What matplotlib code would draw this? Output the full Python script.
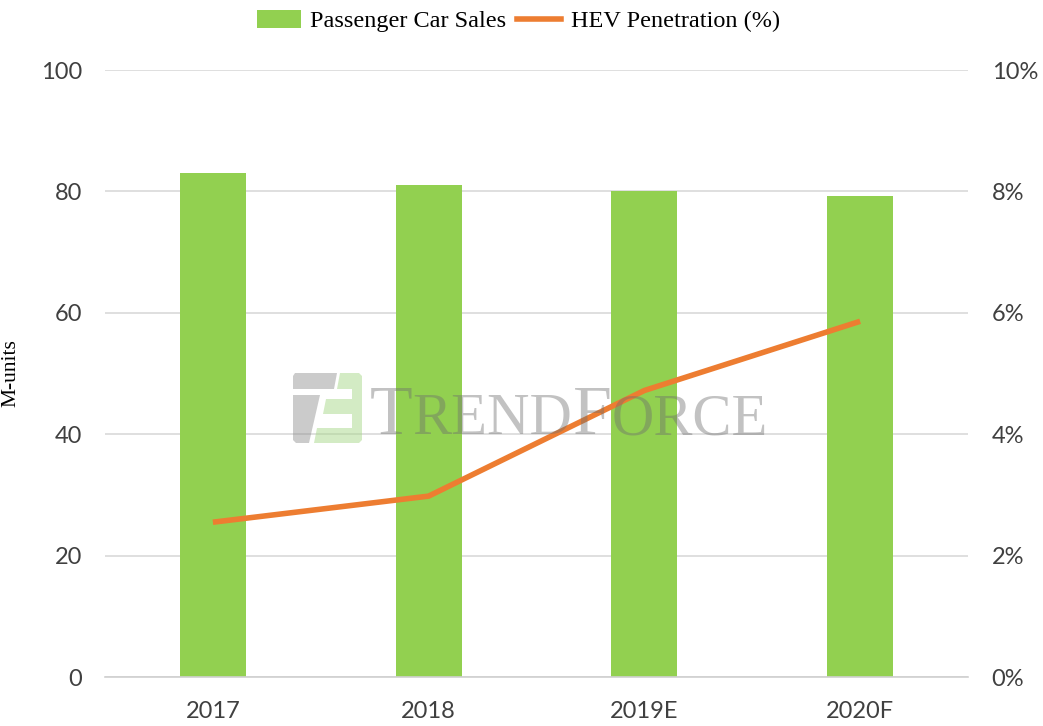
import matplotlib
matplotlib.use("Agg")
import matplotlib.pyplot as plt
from matplotlib.patches import Patch, Polygon
from matplotlib.lines import Line2D

categories = ["2017", "2018", "2019E", "2020F"]
sales = [83.0, 81.0, 80.0, 79.3]
hev_pct = [2.55, 2.98, 4.72, 5.86]
left_ticks = [0, 20, 40, 60, 80, 100]
right_ticks = [0, 2, 4, 6, 8, 10]

GREEN = "#92D050"
ORANGE = "#ED7D31"
GRID = "#D9D9D9"
TICKC = "#404040"

W, H = 1043, 726
fig = plt.figure(figsize=(W / 100, H / 100), dpi=100)
ax = fig.add_axes([105 / W, 1 - 677 / H, (968 - 105) / W, (677 - 70) / H])
x = list(range(len(categories)))
ax.bar(x, sales, width=0.305, color=GREEN, zorder=2)
ax.set_xlim(-0.5, 3.5)
ax.set_ylim(0, 100)
ax.set_yticks(left_ticks)
ax.set_xticks(x)
ax.set_xticklabels(categories)
ax.yaxis.grid(True, color=GRID, linewidth=1.2, zorder=0)
ax.set_axisbelow(True)
for s in ["top", "left", "right"]:
    ax.spines[s].set_visible(False)
ax.spines["bottom"].set_color("#D0D0D0")
ax.spines["bottom"].set_linewidth(1.2)
ax.tick_params(axis="both", length=0, labelsize=17, labelcolor=TICKC)
ax.tick_params(axis="x", pad=17)
ax.tick_params(axis="y", pad=16.5)
for lab in ax.get_xticklabels() + ax.get_yticklabels():
    lab.set_family("Lato")
ax.set_ylabel("M-units", family="Liberation Serif", fontsize=15.5, color="#000000")
ax.yaxis.set_label_coords(-0.098, 0.5)

ax2 = ax.twinx()
ax2.plot(x, hev_pct, color=ORANGE, linewidth=4, solid_capstyle="butt", zorder=3)
ax2.set_ylim(0, 10)
ax2.set_yticks(right_ticks)
ax2.set_yticklabels([f"{t}%" for t in right_ticks])
for s in ["top", "left", "right", "bottom"]:
    ax2.spines[s].set_visible(False)
ax2.tick_params(axis="y", length=0, labelsize=17, labelcolor=TICKC, pad=17)
for lab in ax2.get_yticklabels():
    lab.set_family("Lato")


# watermark logo (figure pixel coordinates -> figure fraction)
def fp(pts):
    return [(px / W, 1 - py / H) for px, py in pts]


grey_parts = [
    [(295, 373), (337, 373), (334, 389), (293, 389), (293, 376)],
    [(293, 395), (320, 395), (309, 443), (296, 443), (293, 440)],
]
green_parts = [
    [(340, 373), (359, 373), (362, 376), (362, 389), (337, 389)],
    [(326, 399), (352, 399), (352, 414), (323, 414)],
    [(352, 389), (362, 389), (362, 428), (352, 428)],
    [(317, 428), (362, 428), (362, 440), (359, 443), (314, 443)],
]
for p in grey_parts:
    fig.patches.append(Polygon(fp(p), closed=True, transform=fig.transFigure,
                               facecolor="#8C8C8C", edgecolor="none", alpha=0.45, zorder=5))
for p in green_parts:
    fig.patches.append(Polygon(fp(p), closed=True, transform=fig.transFigure,
                               facecolor="#A9D98A", edgecolor="none", alpha=0.5, zorder=5))

# watermark text: "TRENDFORCE" in small caps
pieces = [("T", 1.0), ("REND", 0.84), ("F", 1.0), ("ORCE", 0.84)]
x0, x1, base = 370, 768, 434
renderer = fig.canvas.get_renderer()
base_size = 50
total = 0
for txt, sc in pieces:
    t = fig.text(0, 0, txt, family="Liberation Serif", fontsize=base_size * sc)
    total += t.get_window_extent(renderer).width
    t.remove()
k = (x1 - x0) / total
cur = x0
for txt, sc in pieces:
    t = fig.text(cur / W, 1 - base / H, txt, family="Liberation Serif", fontsize=base_size * sc * k,
                 color="#6E6E6E", alpha=0.42, ha="left", va="baseline", zorder=6)
    cur += t.get_window_extent(renderer).width

handles = [Patch(facecolor=GREEN, edgecolor="none"), Line2D([0], [0], color=ORANGE, linewidth=4)]
fig.legend(handles, ["Passenger Car Sales", "HEV Penetration (%)"], loc="center",
           bbox_to_anchor=(0.497, 1 - 21 / H), ncol=2, frameon=False,
           prop={"family": "Liberation Serif", "size": 17.5}, handlelength=1.8, handleheight=0.75,
           handletextpad=0.4, columnspacing=0.45)

fig.savefig("out.png", dpi=100)
